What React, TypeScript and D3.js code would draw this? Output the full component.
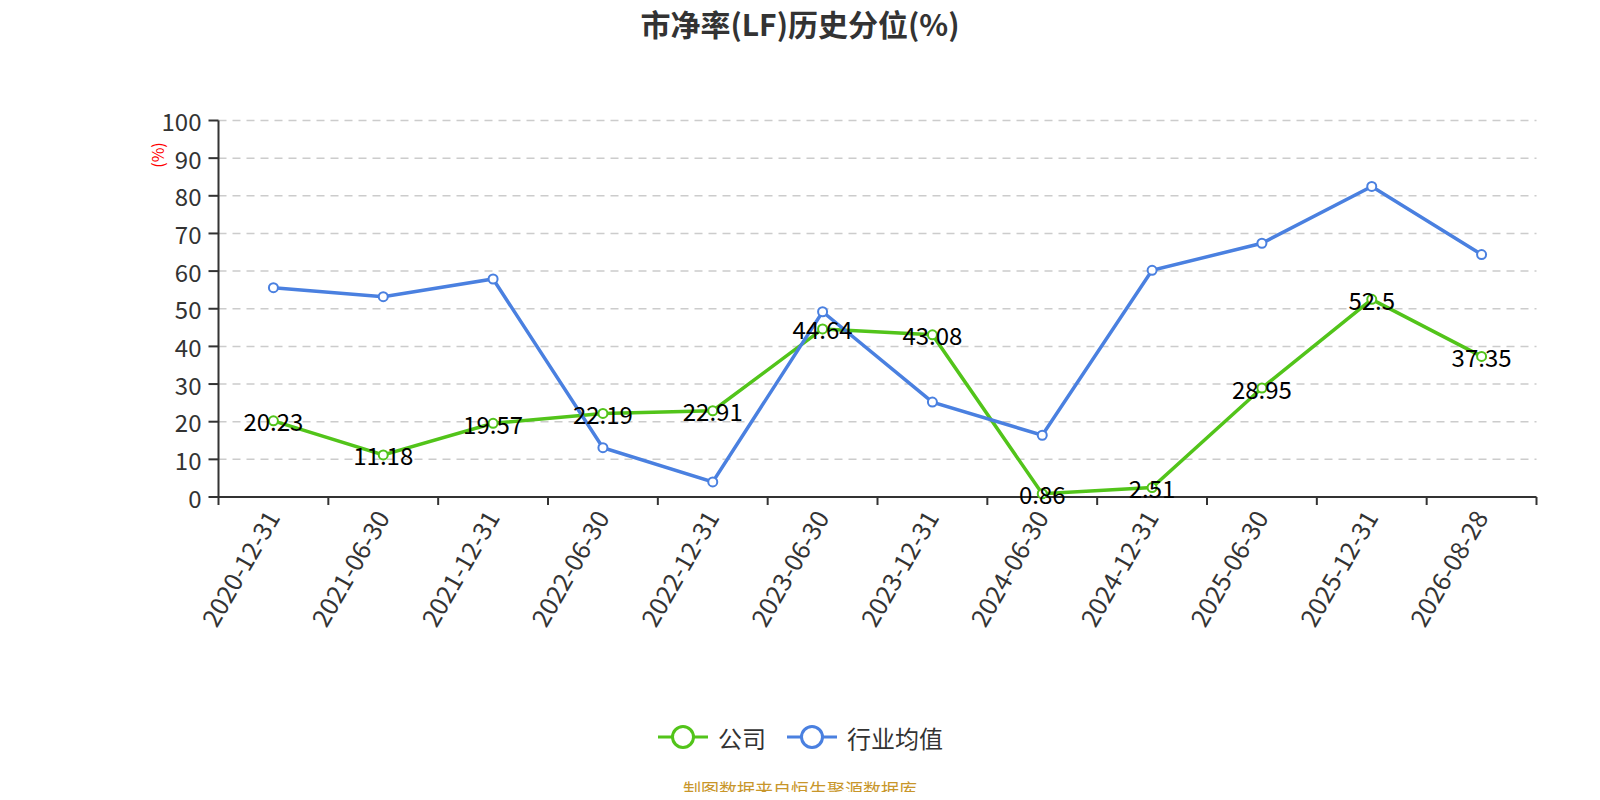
import * as d3 from "d3";

const categories = [
  "2020-12-31",
  "2021-06-30",
  "2021-12-31",
  "2022-06-30",
  "2022-12-31",
  "2023-06-30",
  "2023-12-31",
  "2024-06-30",
  "2024-12-31",
  "2025-06-30",
  "2025-12-31",
  "2026-08-28",
];
const companyValues = [20.23, 11.18, 19.57, 22.19, 22.91, 44.64, 43.08, 0.86, 2.51, 28.95, 52.5, 37.35];
const industryValues = [55.6, 53.2, 57.9, 13.1, 4.0, 49.2, 25.2, 16.4, 60.2, 67.4, 82.5, 64.4];
const yTicks = [0, 10, 20, 30, 40, 50, 60, 70, 80, 90, 100];

const GREEN = "#52c41a";
const BLUE = "#4a80e0";
const FONT = "'Noto Sans CJK SC', 'Noto Sans', sans-serif";

const W = 1584;
const H = 784;
// page coords minus the 8px body margin
const left = 210.5;
const right = 1528.5;
const top = 112.5;
const bottom = 489;

export default function App() {
  const x = d3.scaleBand<string>().domain(categories).range([left, right]);
  const y = d3.scaleLinear().domain([0, 100]).range([bottom, top]);
  const cx = (c: string) => (x(c) ?? 0) + x.bandwidth() / 2;

  const line = d3
    .line<number>()
    .x((_, i) => cx(categories[i]))
    .y((d) => y(d));

  const series = [
    { name: "公司", values: companyValues, color: GREEN },
    { name: "行业均值", values: industryValues, color: BLUE },
  ];

  return (
    <svg width={W} height={H} style={{ display: "block", overflow: "visible", fontFamily: FONT }}>
      <text x={792} y={15} textAnchor="middle" dominantBaseline="central" fontSize={30} fontWeight="bold" fill="#333">
        市净率(LF)历史分位(%)
      </text>

      {/* grid */}
      {yTicks.slice(1).map((t) => (
        <line key={t} x1={left} x2={right} y1={y(t)} y2={y(t)} stroke="#ccc" strokeWidth={1.5} strokeDasharray="8,6" />
      ))}

      {/* y axis */}
      <line x1={left} x2={left} y1={top} y2={bottom} stroke="#333" strokeWidth={2} />
      {yTicks.map((t) => (
        <g key={t}>
          <line x1={left - 10} x2={left} y1={y(t)} y2={y(t)} stroke="#333" strokeWidth={2} />
          <text x={left - 17} y={y(t)} textAnchor="end" dominantBaseline="central" fontSize={24} fill="#333">
            {t}
          </text>
        </g>
      ))}
      <text
        transform="translate(148.5,147) rotate(-90)"
        textAnchor="middle"
        dominantBaseline="central"
        fontSize={16}
        fill="red"
      >
        (%)
      </text>

      {/* x axis */}
      <line x1={left} x2={right} y1={bottom} y2={bottom} stroke="#333" strokeWidth={2} />
      {[...categories.map((c) => x(c) ?? 0), right].map((p, i) => (
        <line key={i} x1={p} x2={p} y1={bottom} y2={bottom + 8} stroke="#333" strokeWidth={2} />
      ))}
      {categories.map((c) => (
        <text
          key={c}
          transform={`translate(${cx(c) - 2},${bottom + 15}) rotate(-60)`}
          textAnchor="end"
          dominantBaseline="central"
          fontSize={25}
          fill="#333"
        >
          {c}
        </text>
      ))}

      {/* lines */}
      {series.map((s) => (
        <g key={s.name}>
          <path d={line(s.values) ?? ""} fill="none" stroke={s.color} strokeWidth={3.5} />
          {s.values.map((v, i) => (
            <circle key={i} cx={cx(categories[i])} cy={y(v)} r={4.5} fill="#fff" stroke={s.color} strokeWidth={2} />
          ))}
        </g>
      ))}
      {companyValues.map((v, i) => (
        <text
          key={i}
          x={cx(categories[i])}
          y={y(v)}
          textAnchor="middle"
          dominantBaseline="central"
          fontSize={24}
          fill="#000"
        >
          {v}
        </text>
      ))}

      {/* legend */}
      {series.map((s, i) => {
        const lx = i === 0 ? 650 : 779;
        return (
          <g key={s.name}>
            <line x1={lx} x2={lx + 50} y1={729} y2={729} stroke={s.color} strokeWidth={3} />
            <circle cx={lx + 25} cy={729} r={10.5} fill="#fff" stroke={s.color} strokeWidth={3} />
            <text x={lx + 60} y={729} dominantBaseline="central" fontSize={24} fill="#333">
              {s.name}
            </text>
          </g>
        );
      })}

      <text x={792} y={781} textAnchor="middle" dominantBaseline="central" fontSize={18} fill="#c8962a">
        制图数据来自恒生聚源数据库
      </text>
    </svg>
  );
}
